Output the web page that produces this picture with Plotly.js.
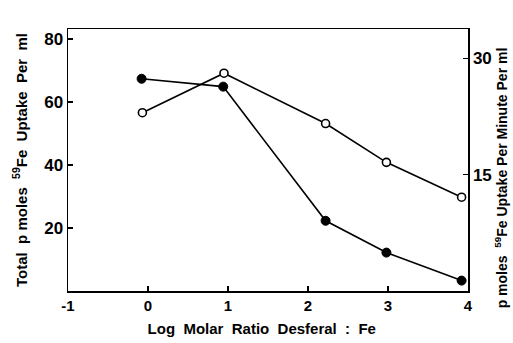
<!DOCTYPE html>
<html>
<head>
<meta charset="utf-8">
<script src="https://cdn.plot.ly/plotly-3.0.1.min.js"></script>
<style>html,body{margin:0;padding:0;background:#fff;}#chart{width:513px;height:343px;}</style>
</head>
<body>
<div id="chart"></div>
<script>
// Data
const logRatio = [-0.08, 0.94, 2.22, 2.98, 3.92];
const totalUptake = [67.4, 64.9, 22.3, 12.2, 3.3];        // filled circles, left axis
const logRatioRate = [-0.07, 0.95, 2.22, 2.98, 3.92];
const uptakePerMinute = [23.0, 28.1, 21.6, 16.6, 12.1];   // open circles, right axis
const xTicks = [-1, 0, 1, 2, 3, 4];
const yLeftTicks = [20, 40, 60, 80];
const yRightTicks = [15, 30];
const rightTitle = 'p moles  <sup>59</sup>Fe Uptake Per Minute Per ml';

const fontFam = '"Liberation Sans", Arial, sans-serif';
const traces = [
  {x: logRatio, y: totalUptake, type: 'scatter', mode: 'lines+markers',
   line: {color: '#000', width: 1.6},
   marker: {symbol: 'circle', size: 9, color: '#000', line: {color: '#000', width: 1}},
   yaxis: 'y', cliponaxis: false},
  {x: logRatioRate, y: uptakePerMinute, type: 'scatter', mode: 'lines+markers',
   line: {color: '#000', width: 1.6},
   marker: {symbol: 'circle', size: 8, color: '#fff', line: {color: '#000', width: 1.6}},
   yaxis: 'y2', cliponaxis: false}
];
const layout = {
  width: 513, height: 343,
  margin: {l: 68, r: 45, t: 29, b: 52},
  paper_bgcolor: '#fff', plot_bgcolor: '#fff',
  showlegend: false,
  font: {family: fontFam, color: '#000', weight: 'bold'},
  xaxis: {
    range: [-1, 4], tickvals: xTicks, ticktext: xTicks.map(String),
    showgrid: false, zeroline: false, showline: true, linecolor: '#000', linewidth: 1.5,
    mirror: true, ticks: 'inside', ticklen: 5, tickwidth: 1.3, tickcolor: '#000',
    tickfont: {size: 15, family: fontFam, weight: 'bold'},
    title: {text: 'Log  Molar  Ratio  Desferal  :  Fe&nbsp;&nbsp;&nbsp;', font: {size: 15, family: fontFam, weight: 'bold'}, standoff: 11}
  },
  yaxis: {
    range: [0, 83.2], tickvals: yLeftTicks, ticktext: yLeftTicks.map(String),
    showgrid: false, zeroline: false, showline: true, linecolor: '#000', linewidth: 1.5,
    ticks: 'inside', ticklen: 5, tickwidth: 1.3, tickcolor: '#000',
    tickfont: {size: 17, family: fontFam, weight: 'bold'},
    title: {text: 'Total  p moles  <sup>59</sup>Fe  Uptake  Per  ml', font: {size: 15, family: fontFam, weight: 'bold'}, standoff: 13}
  },
  yaxis2: {
    overlaying: 'y', side: 'right',
    range: [0, 33.8], tickvals: yRightTicks, ticktext: yRightTicks.map(String),
    showgrid: false, zeroline: false, showline: true, linecolor: '#000', linewidth: 1.5,
    ticks: 'inside', ticklen: 5, tickwidth: 1.3, tickcolor: '#000',
    tickfont: {size: 17, family: fontFam, weight: 'bold'}
  },
  annotations: [{
    text: rightTitle, xref: 'paper', yref: 'paper', x: 1.0825, y: 0.43,
    xanchor: 'center', yanchor: 'middle', textangle: -90, showarrow: false,
    font: {size: 14, family: fontFam, weight: 'bold', color: '#000'}
  }]
};
Plotly.newPlot('chart', traces, layout, {displayModeBar: false, staticPlot: true});
</script>
</body>
</html>
